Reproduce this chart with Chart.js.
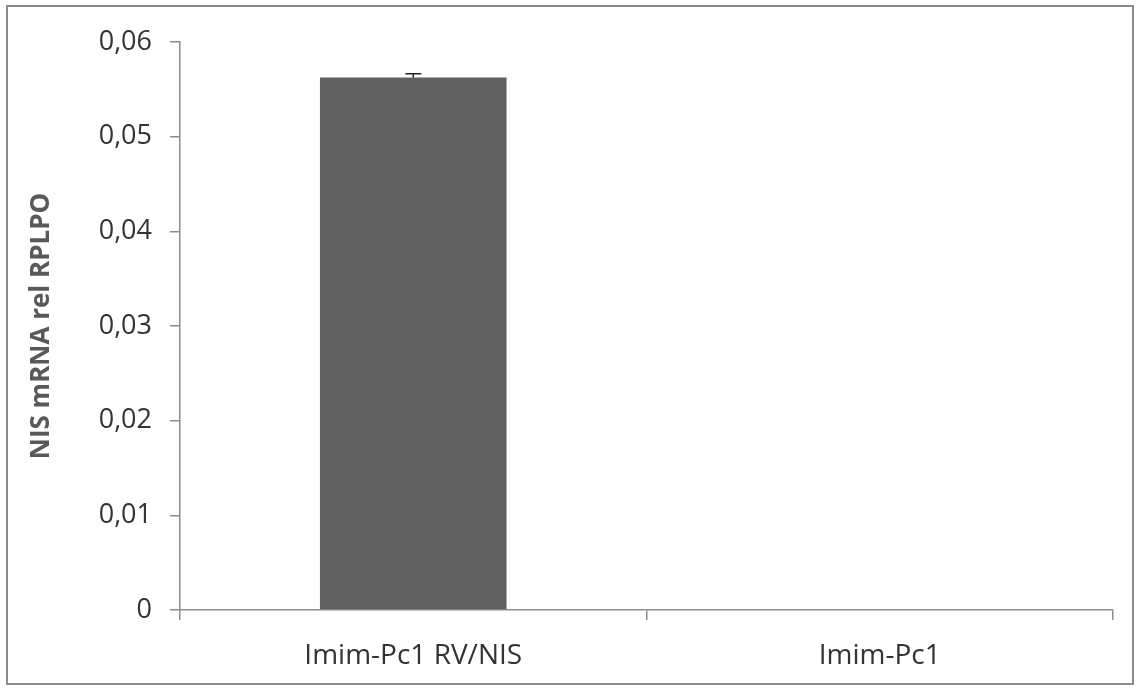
<!DOCTYPE html>
<html lang="en">
<head>
  <meta charset="UTF-8">
  <title>NIS mRNA rel RPLPO</title>
  <style>
    body { margin: 0; background: #fff; }
    #wrap { position: relative; width: 1139px; height: 688px; }
    #frame {
      position: absolute; left: 6px; top: 5px; width: 1124px; height: 676px;
      border: 2px solid #8c8c8c; pointer-events: none;
    }
  </style>
</head>
<body>
  <div id="wrap">
    <canvas id="chart" width="1139" height="688"></canvas>
    <div id="frame"></div>
  </div>

  <script src="https://cdn.jsdelivr.net/npm/chart.js"></script>
  <script>
    // data
    const categories = ["Imim-Pc1 RV/NIS", "Imim-Pc1"];
    const values = [0.05625, 0];
    const errors = [0.0004, 0];
    const yTicks = [0, 0.01, 0.02, 0.03, 0.04, 0.05, 0.06];
    const yTitle = "NIS mRNA rel RPLPO";

    const axisColor = "#8c8c8c";
    const textColor = "#333333";
    const fontFamily = "'Open Sans', 'Noto Sans', sans-serif";

    // error bars drawn through the scales
    const errorBars = {
      id: "errorBars",
      afterDatasetsDraw(chart) {
        const ctx = chart.ctx;
        const y = chart.scales.y;
        const meta = chart.getDatasetMeta(0);
        ctx.save();
        ctx.strokeStyle = "#222";
        ctx.lineWidth = 1.5;
        meta.data.forEach((bar, i) => {
          if (!errors[i]) return;
          const x = bar.x;
          const top = y.getPixelForValue(values[i] + errors[i]);
          const base = y.getPixelForValue(values[i]);
          ctx.beginPath();
          ctx.moveTo(x, base);
          ctx.lineTo(x, top);
          ctx.moveTo(x - 8, top);
          ctx.lineTo(x + 8, top);
          ctx.stroke();
        });
        ctx.restore();
      }
    };

    // rotated y title
    const yTitlePlugin = {
      id: "yTitle",
      afterDraw(chart) {
        const ctx = chart.ctx;
        const area = chart.chartArea;
        ctx.save();
        ctx.translate(42, (area.top + area.bottom) / 2);
        ctx.rotate(-Math.PI / 2);
        ctx.font = "bold 26px " + fontFamily;
        ctx.fillStyle = "#595959";
        ctx.textAlign = "center";
        ctx.textBaseline = "middle";
        ctx.fillText(yTitle, 0, 0);
        ctx.restore();
      }
    };

    new Chart(document.getElementById("chart"), {
      type: "bar",
      data: {
        labels: categories,
        datasets: [{
          data: values,
          backgroundColor: "#606060",
          borderWidth: 0,
          categoryPercentage: 1,
          barPercentage: 0.4,
        }],
      },
      options: {
        responsive: false,
        animation: false,
        layout: { padding: { left: 0, top: 42, right: 26, bottom: 0 } },
        plugins: { legend: { display: false }, tooltip: { enabled: false } },
        scales: {
          x: {
            afterFit(scale) { scale.height = 78; },
            grid: { drawOnChartArea: false, tickLength: 10, color: axisColor, lineWidth: 1.5 },
            border: { color: axisColor, width: 1.5 },
            ticks: { color: textColor, padding: 19, font: { size: 28, family: fontFamily } },
          },
          y: {
            min: 0,
            max: 0.06,
            afterFit(scale) { scale.width = 180; },
            afterBuildTicks(scale) { scale.ticks = yTicks.map(v => ({ value: v })); },
            grid: { drawOnChartArea: false, tickLength: 10, color: axisColor, lineWidth: 1.5 },
            border: { color: axisColor, width: 1.5 },
            ticks: {
              color: textColor,
              padding: 18,
              font: { size: 27, family: fontFamily },
              callback: v => v === 0 ? "0" : v.toFixed(2).replace(".", ","),
            },
          },
        },
      },
      plugins: [errorBars, yTitlePlugin],
    });
  </script>
</body>
</html>
